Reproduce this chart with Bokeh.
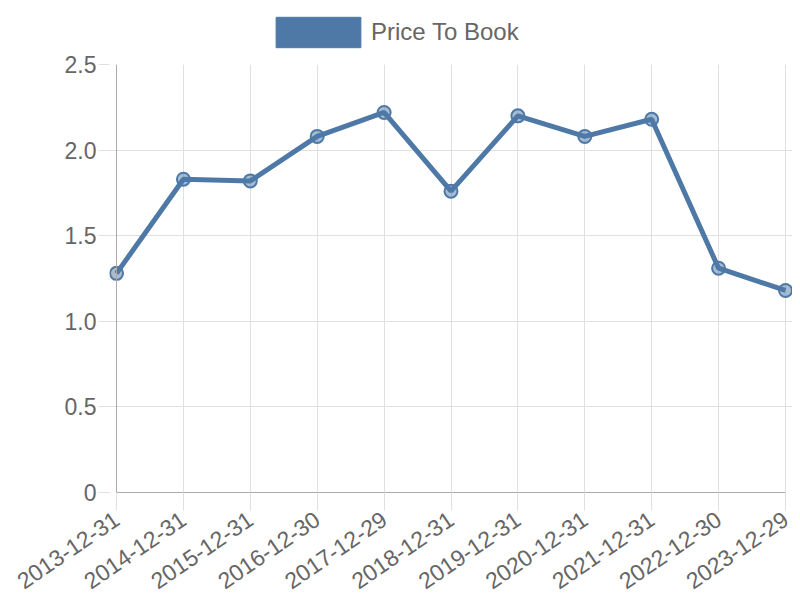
from bokeh.plotting import figure
from bokeh.models import ColumnDataSource, Legend, LegendItem, FixedTicker, Range1d, Span
from bokeh.layouts import column
from bokeh.embed import file_html
from bokeh.resources import INLINE
from bokeh.core.properties import value

dates = ["2013-12-31", "2014-12-31", "2015-12-31", "2016-12-30", "2017-12-29",
         "2018-12-31", "2019-12-31", "2020-12-31", "2021-12-31", "2022-12-30", "2023-12-29"]
price_to_book = [1.28, 1.83, 1.82, 2.08, 2.22, 1.76, 2.20, 2.08, 2.18, 1.31, 1.18]
y_ticks = [0, 0.5, 1.0, 1.5, 2.0, 2.5]
y_labels = ["0", "0.5", "1.0", "1.5", "2.0", "2.5"]
series_name = "Price To Book"

FONT = "Liberation Sans"
TEXT = "#666666"
LINE = "#4e79a7"
GRID = "#e0e0e0"
AXIS = "#aaaaaa"

xs = list(range(len(dates)))
src = ColumnDataSource(dict(x=xs, y=price_to_book))
pad = 0.105

# legend strip
lf = figure(width=792, height=49, output_backend="svg", toolbar_location=None,
            x_range=Range1d(0, 1), y_range=Range1d(0, 1))
lf.min_border_left = 0
lf.min_border_right = 0
lf.min_border_top = 0
lf.min_border_bottom = 0
lf.axis.visible = False
lf.grid.visible = False
lf.outline_line_color = None
key_src = ColumnDataSource(dict(l=[float("nan")], r=[float("nan")],
                                t=[float("nan")], b=[float("nan")]))
key = lf.quad(left="l", right="r", top="t", bottom="b", source=key_src,
              fill_color=LINE, line_color=LINE)
legend = Legend(items=[LegendItem(label=value(series_name), renderers=[key])],
                location=(156, -2), orientation="horizontal",
                glyph_width=106, glyph_height=38, padding=0, margin=0,
                label_standoff=0, border_line_color=None,
                background_fill_alpha=0,
                label_text_font=FONT, label_text_font_size="24px",
                label_text_color=TEXT)
lf.add_layout(legend, "center")

p = figure(width=792, height=550, output_backend="svg", toolbar_location=None,
           x_range=Range1d(xs[0] - pad, xs[-1] + pad), y_range=Range1d(0, 2.5))
p.min_border_left = 109
p.min_border_right = 0
p.min_border_top = 15
p.min_border_bottom = 101
p.outline_line_color = None
p.background_fill_color = "white"

p.xgrid.grid_line_color = GRID
p.ygrid.grid_line_color = GRID
p.add_layout(Span(location=xs[0], dimension="height", line_color=AXIS, line_width=1))

p.line("x", "y", source=src, line_color=LINE, line_width=5)
p.scatter("x", "y", source=src, size=13, fill_color=LINE, fill_alpha=0.5,
          line_color=LINE, line_width=2)

p.xaxis.ticker = FixedTicker(ticks=xs)
p.xaxis.bounds = (xs[0], xs[-1])
p.xaxis.major_label_overrides = {i: d for i, d in enumerate(dates)}
p.xaxis.major_label_orientation = 0.6
p.yaxis.ticker = FixedTicker(ticks=y_ticks)
p.yaxis.major_label_overrides = {t: l for t, l in zip(y_ticks, y_labels)}

for ax in (p.xaxis, p.yaxis):
    ax.major_label_text_font = FONT
    ax.major_label_text_font_size = "23px"
    ax.major_label_text_color = TEXT
    ax.axis_line_color = AXIS
    ax.axis_line_width = 1
    ax.major_tick_line_color = GRID
    ax.major_tick_in = 0
    ax.minor_tick_line_color = None
p.xaxis.major_tick_out = 18
p.xaxis.major_label_standoff = 6
p.yaxis.major_tick_out = 11
p.yaxis.major_label_standoff = 2
p.yaxis.axis_line_color = None

layout = column(lf, p, spacing=0)
open("out.html", "w").write(file_html(layout, INLINE))
